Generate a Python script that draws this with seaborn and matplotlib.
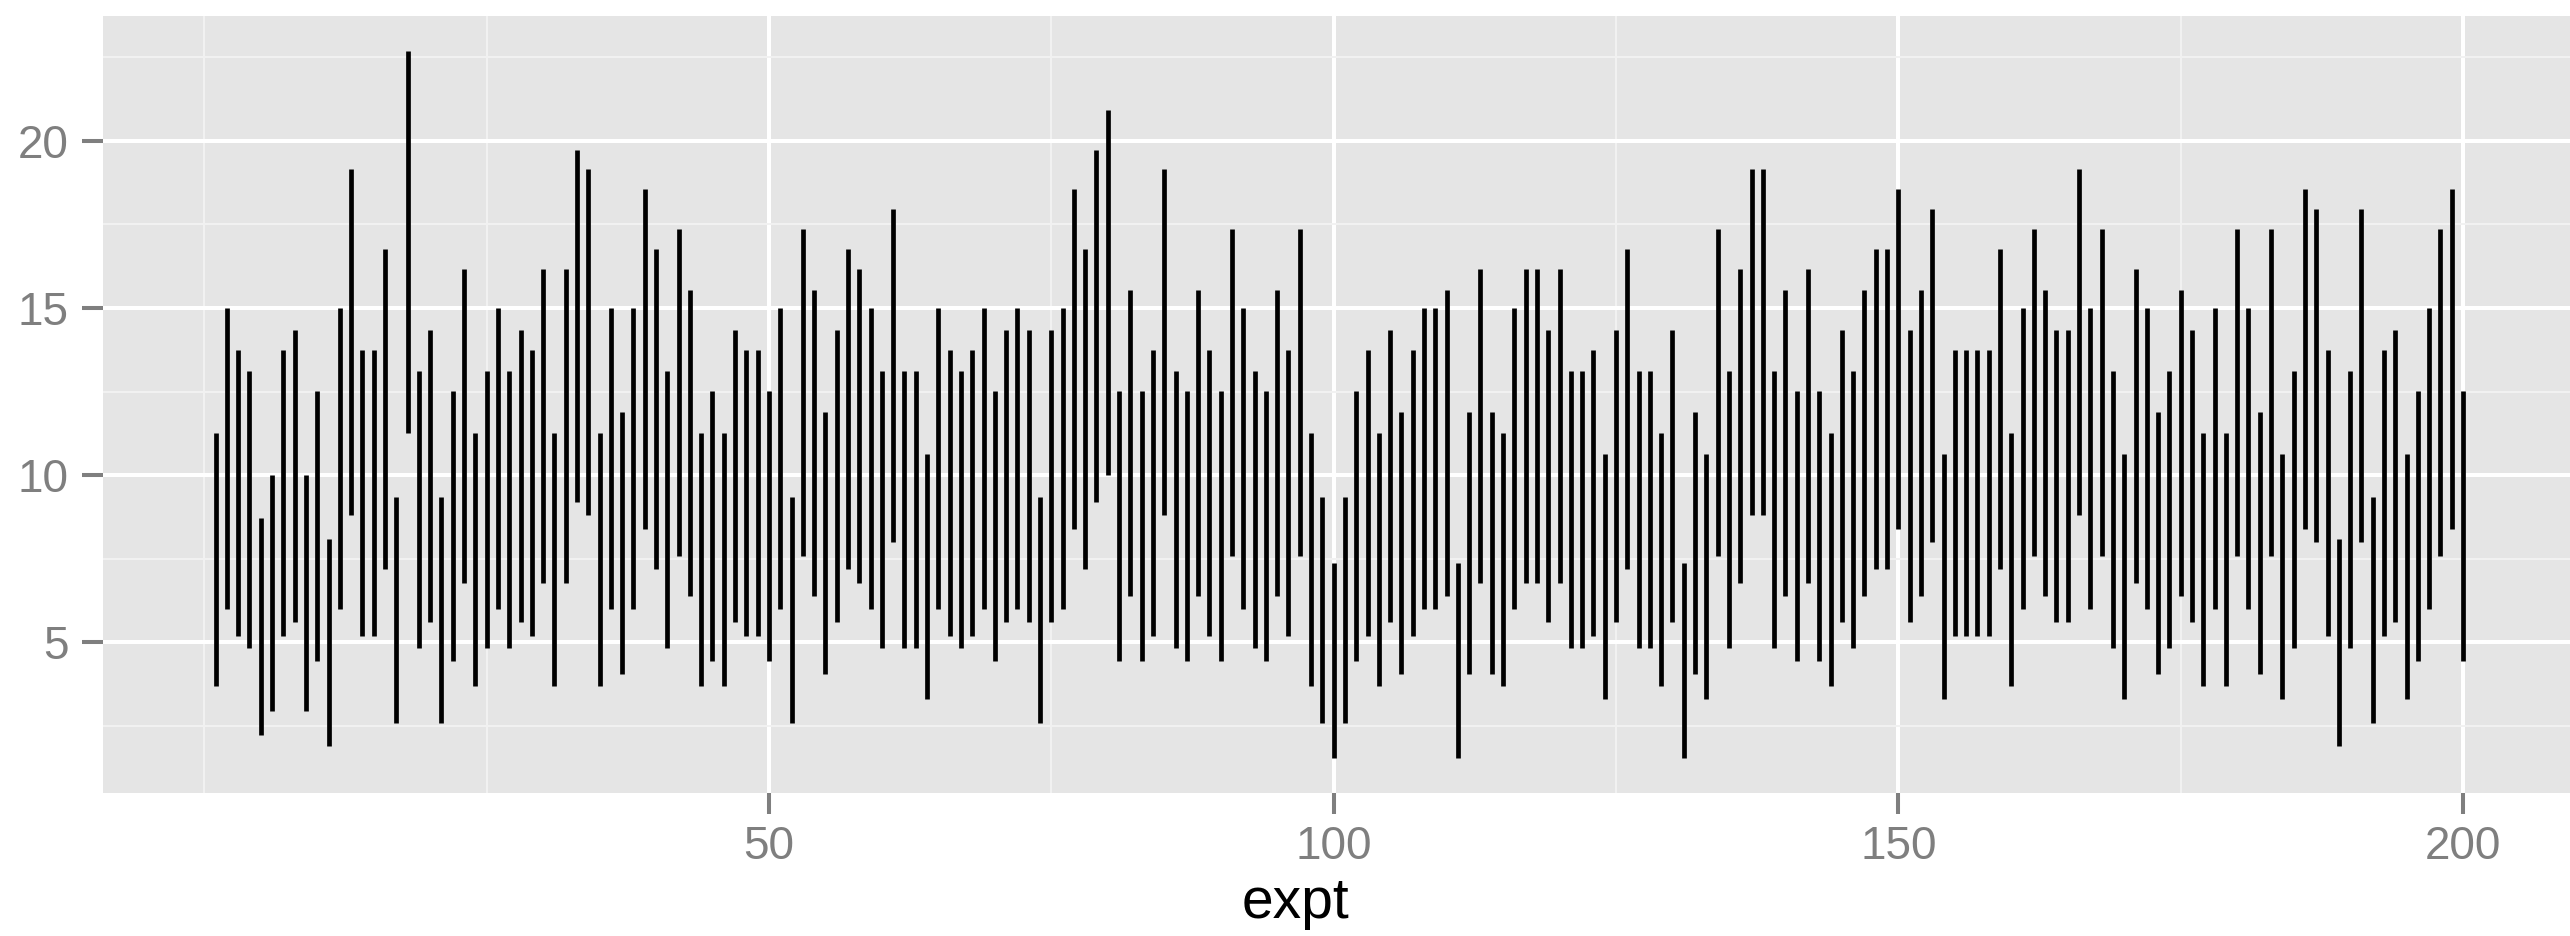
import numpy as np
import pandas as pd
import matplotlib
matplotlib.use("Agg")
import matplotlib.pyplot as plt
import seaborn as sns
from matplotlib.ticker import FixedLocator

# ---------------- data ----------------
expt = list(range(1, 201))

ymin = [
    3.69, 6.0, 5.2, 4.82, 2.23, 2.94, 5.2, 5.6, 2.94, 4.44, 1.89, 6.0, 8.81, 5.2, 5.2, 7.2, 2.59, 11.25, 4.82, 5.6,
    2.59, 4.44, 6.77, 3.69, 4.82, 6.0, 4.82, 5.6, 5.2, 6.77, 3.69, 6.77, 9.19, 8.81, 3.69, 6.0, 4.05, 6.0, 8.38, 7.2,
    4.82, 7.58, 6.39, 3.69, 4.44, 3.69, 5.6, 5.2, 5.2, 4.44, 6.0, 2.59, 7.58, 6.39, 4.05, 5.6, 7.2, 6.77, 6.0, 4.82,
    7.99, 4.82, 4.82, 3.32, 6.0, 5.2, 4.82, 5.2, 6.0, 4.44, 5.6, 6.0, 5.6, 2.59, 5.6, 6.0, 8.38, 7.2, 9.19, 10.0,
    4.44, 6.39, 4.44, 5.2, 8.81, 4.82, 4.44, 6.39, 5.2, 4.44, 7.58, 6.0, 4.82, 4.44, 6.39, 5.2, 7.58, 3.69, 2.59, 1.55,
    2.59, 4.44, 5.2, 3.69, 5.6, 4.05, 5.2, 6.0, 6.0, 6.39, 1.55, 4.05, 6.77, 4.05, 3.69, 6.0, 6.77, 6.77, 5.6, 6.77,
    4.82, 4.82, 5.2, 3.32, 5.6, 7.2, 4.82, 4.82, 3.69, 5.6, 1.55, 4.05, 3.32, 7.58, 4.82, 6.77, 8.81, 8.81, 4.82, 6.39,
    4.44, 6.77, 4.44, 3.69, 5.6, 4.82, 6.39, 7.2, 7.2, 8.38, 5.6, 6.39, 7.99, 3.32, 5.2, 5.2, 5.2, 5.2, 7.2, 3.69,
    6.0, 7.58, 6.39, 5.6, 5.6, 8.81, 6.0, 7.58, 4.82, 3.32, 6.77, 6.0, 4.05, 4.82, 6.39, 5.6, 3.69, 6.0, 3.69, 7.58,
    6.0, 4.05, 7.58, 3.32, 4.82, 8.38, 7.99, 5.2, 1.89, 4.82, 7.99, 2.59, 5.2, 5.6, 3.32, 4.44, 6.0, 7.58, 8.38, 4.44,
]

ymax = [
    11.25, 15.0, 13.75, 13.13, 8.72, 10.0, 13.75, 14.34, 10.0, 12.52, 8.08, 15.0, 19.16, 13.75, 13.75, 16.77, 9.36, 22.68, 13.13, 14.34,
    9.36, 12.52, 16.17, 11.25, 13.13, 15.0, 13.13, 14.34, 13.75, 16.17, 11.25, 16.17, 19.74, 19.16, 11.25, 15.0, 11.88, 15.0, 18.55, 16.77,
    13.13, 17.36, 15.55, 11.25, 12.52, 11.25, 14.34, 13.75, 13.75, 12.52, 15.0, 9.36, 17.36, 15.55, 11.88, 14.34, 16.77, 16.17, 15.0, 13.13,
    17.96, 13.13, 13.13, 10.63, 15.0, 13.75, 13.13, 13.75, 15.0, 12.52, 14.34, 15.0, 14.34, 9.36, 14.34, 15.0, 18.55, 16.77, 19.74, 20.91,
    12.52, 15.55, 12.52, 13.75, 19.16, 13.13, 12.52, 15.55, 13.75, 12.52, 17.36, 15.0, 13.13, 12.52, 15.55, 13.75, 17.36, 11.25, 9.36, 7.38,
    9.36, 12.52, 13.75, 11.25, 14.34, 11.88, 13.75, 15.0, 15.0, 15.55, 7.38, 11.88, 16.17, 11.88, 11.25, 15.0, 16.17, 16.17, 14.34, 16.17,
    13.13, 13.13, 13.75, 10.63, 14.34, 16.77, 13.13, 13.13, 11.25, 14.34, 7.38, 11.88, 10.63, 17.36, 13.13, 16.17, 19.16, 19.16, 13.13, 15.55,
    12.52, 16.17, 12.52, 11.25, 14.34, 13.13, 15.55, 16.77, 16.77, 18.55, 14.34, 15.55, 17.96, 10.63, 13.75, 13.75, 13.75, 13.75, 16.77, 11.25,
    15.0, 17.36, 15.55, 14.34, 14.34, 19.16, 15.0, 17.36, 13.13, 10.63, 16.17, 15.0, 11.88, 13.13, 15.55, 14.34, 11.25, 15.0, 11.25, 17.36,
    15.0, 11.88, 17.36, 10.63, 13.13, 18.55, 17.96, 13.75, 8.08, 13.13, 17.96, 9.36, 13.75, 14.34, 10.63, 12.52, 15.0, 17.36, 18.55, 12.52,
]

x_ticks = [50, 100, 150, 200]
y_ticks = [5, 10, 15, 20]
x_minor = [0, 25, 75, 125, 175]
y_minor = [2.5, 7.5, 12.5, 17.5, 22.5]
x_label = "expt"

# ---------------- style ----------------
sns.set_style("darkgrid", {"axes.facecolor": "#E5E5E5", "grid.color": "white"})
plt.rcParams["font.family"] = ["Liberation Sans", "DejaVu Sans"]

df = pd.DataFrame({
    "expt": expt + expt,
    "value": ymin + ymax,
})

W, H = 2570, 936
fig = plt.figure(figsize=(W / 100, H / 100), dpi=100, facecolor="white")
left_px, right_px, top_px, bottom_px = 103.2, 2575.4, 16.0, 793.0
ax = fig.add_axes([left_px / W, (H - bottom_px) / H,
                   (right_px - left_px) / W, (bottom_px - top_px) / H])

sns.lineplot(data=df, x="expt", y="value", units="expt", estimator=None,
             color="black", linewidth=3.4, solid_capstyle="butt",
             sort=False, ax=ax)

# ggplot-like expansion (5%)
xr = max(expt) - min(expt)
ax.set_xlim(min(expt) - 0.05 * xr, max(expt) + 0.05 * xr)
lo, hi = min(ymin), max(ymax)
yr = hi - lo
ax.set_ylim(lo - 0.05 * yr, hi + 0.05 * yr)

ax.xaxis.set_major_locator(FixedLocator(x_ticks))
ax.yaxis.set_major_locator(FixedLocator(y_ticks))
ax.xaxis.set_minor_locator(FixedLocator(x_minor))
ax.yaxis.set_minor_locator(FixedLocator(y_minor))

ax.grid(which="major", color="white", linewidth=2.9)
ax.grid(which="minor", color="#F2F2F2", linewidth=1.4)
ax.set_axisbelow(True)

for s in ax.spines.values():
    s.set_visible(False)

ax.tick_params(which="major", length=15, width=2.9, color="#7F7F7F",
               labelcolor="#7F7F7F", labelsize=33, bottom=True, left=True)
ax.tick_params(axis="x", which="major", pad=8)
ax.tick_params(axis="y", which="major", pad=10)
ax.tick_params(which="minor", length=0)

ax.set_ylabel("")
ax.set_xlabel(x_label, fontsize=41, color="black")
ax.xaxis.label.set_va("baseline")
ax.xaxis.set_label_coords((1295 - left_px) / (right_px - left_px),
                          ((H - 918) - (H - bottom_px)) / (bottom_px - top_px))

fig.savefig("out.png", dpi=100, facecolor="white")
